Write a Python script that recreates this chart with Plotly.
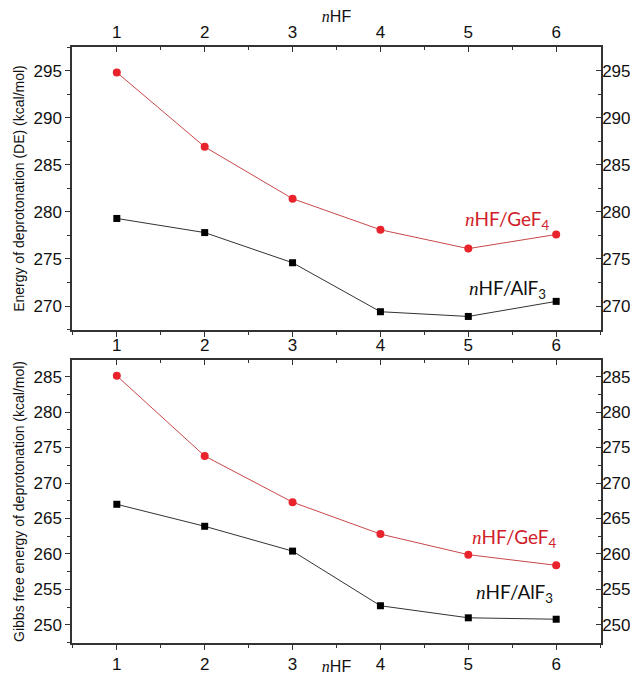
import plotly.graph_objects as go

n_hf = [1, 2, 3, 4, 5, 6]
x_ticks = [1, 2, 3, 4, 5, 6]

de_gef4 = [294.8, 286.9, 281.4, 278.1, 276.1, 277.6]
de_alf3 = [279.3, 277.8, 274.6, 269.4, 268.9, 270.5]
g_gef4 = [285.1, 273.8, 267.3, 262.8, 259.9, 258.4]
g_alf3 = [267.0, 263.9, 260.4, 252.7, 251.0, 250.8]

top_yticks = [270, 275, 280, 285, 290, 295]
bot_yticks = [250, 255, 260, 265, 270, 275, 280, 285]

RED_LINE = "#c8484a"
RED_MK = "#e8232b"
TICKFONT = dict(family="Liberation Sans, Arial", size=17, color="#111")

fig = go.Figure()

def add_series(x, y, xa, ya, color_line, color_mk, symbol, size):
    fig.add_trace(go.Scatter(
        x=x, y=y, xaxis=xa, yaxis=ya, mode="lines+markers",
        line=dict(color=color_line, width=1),
        marker=dict(color=color_mk, symbol=symbol, size=size),
        showlegend=False, hoverinfo="skip"))

add_series(n_hf, de_gef4, "x", "y", RED_LINE, RED_MK, "circle", 8)
add_series(n_hf, de_alf3, "x", "y", "#333", "#000", "square", 7)
add_series(n_hf, g_gef4, "x3", "y3", RED_LINE, RED_MK, "circle", 8)
add_series(n_hf, g_alf3, "x3", "y3", "#333", "#000", "square", 7)

XR = [0.49, 6.51]
TOPR = [267.45, 297.5]
BOTR = [247.45, 287.35]
TOPD = [0.525, 1.0]
BOTD = [0.0, 0.475]

def xax(direction, **kw):
    return dict(range=XR, tickvals=x_ticks, ticks=direction, ticklen=5, tickwidth=1.2,
                tickcolor="#333", showline=True, linecolor="#333", linewidth=1.5,
                showgrid=False, zeroline=False, tickfont=TICKFONT, automargin=False,
                minor=dict(dtick=0.5, tick0=0.5, ticks=direction, ticklen=3, tickcolor="#333"),
                domain=[0, 1], **kw)

def yax(direction, rng, tv, **kw):
    return dict(range=rng, tickvals=tv, ticks=direction, ticklen=5, tickwidth=1.2,
                tickcolor="#333", showline=True, linecolor="#333", linewidth=1.5,
                showgrid=False, zeroline=False, tickfont=TICKFONT, automargin=False,
                minor=dict(dtick=2.5, tick0=0, ticks=direction, ticklen=3, tickcolor="#333"),
                **kw)

title_nhf = dict(text="<i><span style='font-family:Liberation Serif'>n</span></i>HF",
                 font=dict(family="Liberation Sans", size=16, color="#111"))
ytitle_font = dict(family="Liberation Sans", size=14, color="#111")

# page body adds an 8px offset; size the figure so the plot lands where the reference has it
fig.update_layout(
    width=630, height=667,
    margin=dict(l=64, r=37, t=39, b=32),
    paper_bgcolor="white", plot_bgcolor="white",
    xaxis=xax("outside", anchor="y", side="bottom", showticklabels=False),
    xaxis2=xax("inside", anchor="y", overlaying="x", side="top",
               title=dict(**title_nhf, standoff=0)),
    yaxis=yax("outside", TOPR, top_yticks, domain=TOPD, anchor="x",
              title=dict(text="Energy of deprotonation (DE) (kcal/mol)",
                         font=ytitle_font, standoff=6)),
    yaxis2=yax("inside", TOPR, top_yticks, domain=TOPD, anchor="x",
               overlaying="y", side="right", ticklabelstandoff=-4),
    xaxis3=xax("outside", anchor="y3", side="bottom",
               title=dict(**title_nhf, standoff=3)),
    xaxis4=xax("inside", anchor="y3", overlaying="x3", side="top"),
    yaxis3=yax("outside", BOTR, bot_yticks, domain=BOTD, anchor="x3",
               title=dict(text="Gibbs free energy of deprotonation (kcal/mol)",
                          font=ytitle_font, standoff=6)),
    yaxis4=yax("inside", BOTR, bot_yticks, domain=BOTD, anchor="x3",
               overlaying="y3", side="right", ticklabelstandoff=-4),
)

# dummy traces so overlay axes render
fig.add_trace(go.Scatter(x=[None], y=[None], xaxis="x2", yaxis="y2", showlegend=False))
fig.add_trace(go.Scatter(x=[None], y=[None], xaxis="x4", yaxis="y4", showlegend=False))

def lab(comp, sub):
    return ("<i><span style='font-family:Liberation Serif'>n</span></i>HF/" + comp +
            "<sub>" + sub + "</sub>")

ANN_FONT = dict(family="Lato, Open Sans", size=19)
fig.add_annotation(x=5.45, y=279.1, xref="x", yref="y", text=lab("GeF", "4"),
                   showarrow=False, font=dict(**ANN_FONT, color="#d0202a"))
fig.add_annotation(x=5.45, y=271.8, xref="x", yref="y", text=lab("AlF", "3"),
                   showarrow=False, font=dict(**ANN_FONT, color="#111"))
fig.add_annotation(x=5.53, y=262.2, xref="x3", yref="y3", text=lab("GeF", "4"),
                   showarrow=False, font=dict(**ANN_FONT, color="#d0202a"))
fig.add_annotation(x=5.53, y=254.5, xref="x3", yref="y3", text=lab("AlF", "3"),
                   showarrow=False, font=dict(**ANN_FONT, color="#111"))

fig.write_html("out.html")
